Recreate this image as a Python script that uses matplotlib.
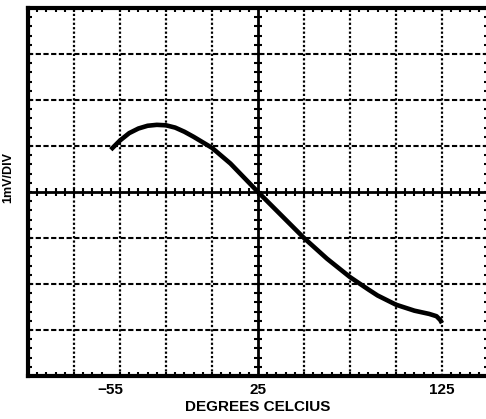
import matplotlib
matplotlib.use("Agg")
import matplotlib.pyplot as plt
import numpy as np

# data
temp_c = [-55, -50, -45, -40, -35, -30, -25, -20, -15, -10, -5, 0, 10, 25,
          37.5, 50, 62.5, 75, 85, 90, 100, 110, 118, 122, 124, 125]
offset_mv = [0.92, 1.12, 1.28, 1.38, 1.44, 1.46, 1.45, 1.40, 1.31, 1.20, 1.08, 0.96, 0.62, 0.0,
             -0.5, -1.0, -1.45, -1.85, -2.12, -2.25, -2.45, -2.58, -2.65, -2.70, -2.78, -2.85]
xtick_vals = [-55, 25, 125]
xtick_labels = ["\u221255", "25", "125"]
x_min, x_max, x_div = -100, 150, 25
y_min, y_max, y_div = -4, 4, 1

plt.rcParams['font.family'] = ['Liberation Sans', 'DejaVu Sans']
fig = plt.figure(figsize=(4.86, 4.19), dpi=100)
ax = fig.add_axes([28/486, 43/419, 460/486, 368/419])
ax.set_xlim(x_min, x_max)
ax.set_ylim(y_min, y_max)

# grid lines
for xv in np.arange(x_min + x_div, x_max, x_div):
    if xv == 25:
        continue
    ax.axvline(xv, color='black', lw=1.6, ls=(0, (1, 1)), zorder=1)
for yv in np.arange(y_min + y_div, y_max, y_div):
    if yv == 0:
        continue
    ax.axhline(yv, color='black', lw=1.5, ls=(0, (2.5, 1.2)), zorder=1)

# center crosshair
ax.axvline(25, color='black', lw=2, zorder=2)
ax.axhline(0, color='black', lw=2, zorder=2)
mx = np.arange(x_min, x_max + 0.01, x_div / 5)
my = np.arange(y_min, y_max + 0.01, y_div / 5)
ax.plot(mx, np.zeros_like(mx), ls='none', marker='|', ms=6, mew=1.5, color='black', zorder=2)
ax.plot(np.full_like(my, 25.0), my, ls='none', marker='_', ms=6, mew=1.5, color='black', zorder=2)

# curve
ax.plot(temp_c, offset_mv, color='black', lw=3.3, solid_capstyle='butt', zorder=3)

# frame
for s in ax.spines.values():
    s.set_linewidth(3)
ax.set_xticks(xtick_vals)
ax.set_xticklabels(xtick_labels, fontsize=11, fontweight='bold')
ax.set_yticks([])
ax.set_xticks(mx, minor=True)
ax.set_yticks(my, minor=True)
ax.tick_params(axis='x', which='major', length=0, pad=5)
ax.tick_params(which='minor', direction='in', length=3, width=1.5,
               top=True, bottom=True, left=True, right=True)
ax.tick_params(axis='x', which='minor', labelbottom=False)

ax.set_xlabel("DEGREES CELCIUS", fontsize=11, fontweight='bold', labelpad=2)
ax.set_ylabel("1mV/DIV", fontsize=9, fontweight='bold')
ax.yaxis.set_label_coords(-0.030, 0.54)

fig.savefig("out.png", dpi=100)
